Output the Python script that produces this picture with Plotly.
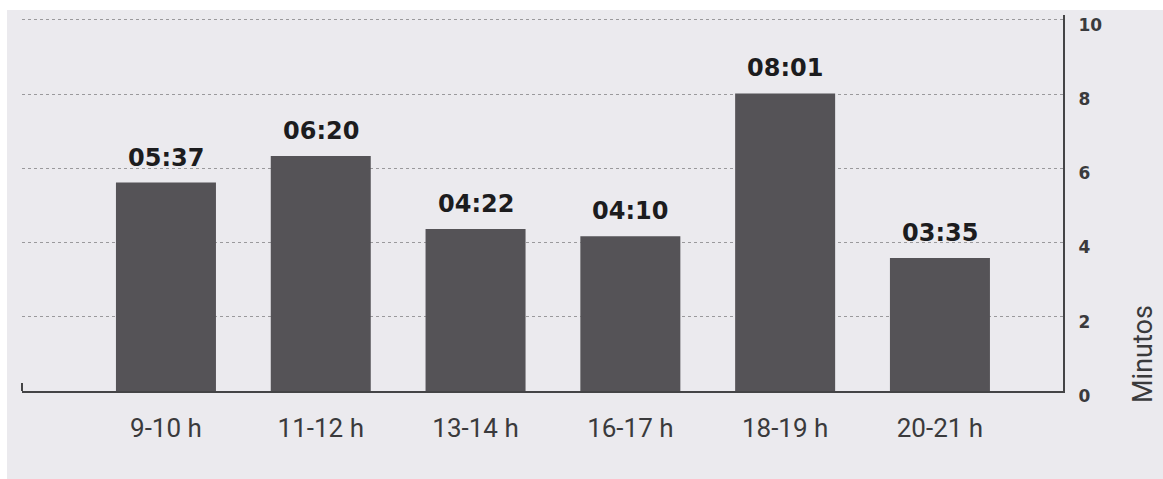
import plotly.graph_objects as go

# Average time per time slot, printed as mm:ss above each bar
categories = ["9-10 h", "11-12 h", "13-14 h", "16-17 h", "18-19 h", "20-21 h"]
duration_labels = ["05:37", "06:20", "04:22", "04:10", "08:01", "03:35"]
y_ticks = [0, 2, 4, 6, 8, 10]
y_title = "Minutos"


def to_minutes(text):
    mm, ss = text.split(":")
    return int(mm) + int(ss) / 60.0


minutes = [to_minutes(s) for s in duration_labels]

W, H = 1163, 479
L, R, T, B = 22, 100, 15, 88
PW, PH = W - L - R, H - T - B

BAR = "#555357"
BG = "#ebeaee"


def px_x(px):
    return (px - L) / PW


def px_y(py):
    return (H - B - py) / PH


fig = go.Figure(
    go.Bar(
        x=categories,
        y=minutes,
        marker=dict(color=BAR, line=dict(width=0)),
        hoverinfo="skip",
    )
)

# value labels above bars
for cat, val, lab in zip(categories, minutes, duration_labels):
    fig.add_annotation(
        x=cat, y=val, text=f"<b>{lab}</b>", showarrow=False,
        xref="x", yref="y", yanchor="bottom", yshift=9,
        font=dict(family="DejaVu Sans", size=24, color="#1c1c1e"),
    )

# rotated y-axis title placed low on the right side
fig.add_annotation(
    x=px_x(1143), y=px_y(354), xref="paper", yref="paper",
    xanchor="center", yanchor="middle",
    text=y_title, textangle=-90, showarrow=False,
    font=dict(family="Roboto", size=27, color="#3a3a3c"),
)

shapes = [
    # white border strips around the printed sheet
    dict(type="rect", xref="paper", yref="paper", x0=px_x(-5), x1=px_x(7),
         y0=px_y(H + 5), y1=px_y(-5), fillcolor="white", line_width=0, layer="below"),
    dict(type="rect", xref="paper", yref="paper", x0=px_x(-5), x1=px_x(W + 5),
         y0=px_y(10), y1=px_y(-5), fillcolor="white", line_width=0, layer="below"),
    # small upturn at the left end of the baseline
    dict(type="line", xref="paper", yref="paper", x0=0, x1=0,
         y0=0, y1=8 / PH, line=dict(color="#444446", width=2)),
]

fig.update_layout(
    width=W, height=H,
    margin=dict(l=L, r=R, t=T, b=B),
    paper_bgcolor=BG, plot_bgcolor="rgba(0,0,0,0)",
    bargap=0.354,
    showlegend=False,
    shapes=shapes,
    xaxis=dict(
        type="category",
        range=[-0.93, 5.795],
        showgrid=False, zeroline=False,
        showline=True, linecolor="#444446", linewidth=2,
        ticks="", ticklabelstandoff=13,
        tickfont=dict(family="Roboto", size=26, color="#3a3a3c"),
    ),
    yaxis=dict(
        side="right",
        range=[0, 10.13],
        tickvals=y_ticks,
        ticktext=[f"<b>{v}</b>" for v in y_ticks],
        showgrid=True, gridcolor="#9a999c", griddash="dot", gridwidth=1,
        zeroline=False,
        showline=True, linecolor="#444446", linewidth=2,
        ticks="", ticklabelstandoff=10, ticklabelshift=5,
        tickfont=dict(family="DejaVu Sans", size=17, color="#3a3a3c"),
    ),
)

fig.write_html("out.html")
